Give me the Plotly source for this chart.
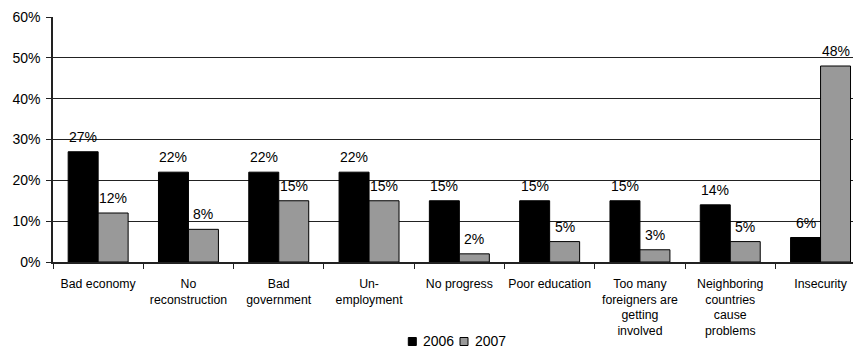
import plotly.graph_objects as go

# Reasons given for a worsening situation, share of respondents
categories = [
    "Bad economy",
    "No<br>reconstruction",
    "Bad<br>government",
    "Un-<br>employment",
    "No progress",
    "Poor education",
    "Too many<br>foreigners are<br>getting<br>involved",
    "Neighboring<br>countries<br>cause<br>problems",
    "Insecurity",
]
values_2006 = [27, 22, 22, 22, 15, 15, 15, 14, 6]
values_2007 = [12, 8, 15, 15, 2, 5, 3, 5, 48]
series_names = ["2006", "2007"]

FONT = "Liberation Sans, Arial, sans-serif"
W, H = 853, 349
ML, MR, MT, MB = 53, 0, 17, 87
PW, PH = W - ML - MR, H - MT - MB

fig = go.Figure()
fig.add_bar(x=categories, y=values_2006, name=series_names[0],
            marker=dict(color="#000000", line=dict(color="#000000", width=1)))
fig.add_bar(x=categories, y=values_2007, name=series_names[1],
            marker=dict(color="#999999", line=dict(color="#000000", width=1)))

# value labels above each bar
cat_px = 90.3
bar_off = 15
annotations = []
for vals, sign in ((values_2006, -1), (values_2007, 1)):
    for c, v in zip(categories, vals):
        annotations.append(dict(
            x=c, y=v, xref="x", yref="y", text=f"{v}%", showarrow=False,
            xshift=sign * bar_off, yshift=15, yanchor="middle", xanchor="center",
            font=dict(family=FONT, size=14, color="#000000")))

# legend drawn as swatches + labels below the axis
def px_x(p):
    return (p - ML) / PW

def px_y(p):
    return (H - MB - p) / PH

shapes = []
legend_items = [(408.3, 421, series_names[0], "#000000"),
                (460, 472.7, series_names[1], "#999999")]
for sx, tx, label, col in legend_items:
    shapes.append(dict(type="rect", xref="paper", yref="paper",
                       x0=px_x(sx), x1=px_x(sx + 8), y0=px_y(345.5), y1=px_y(337.5),
                       fillcolor=col, line=dict(color="#000000", width=1)))
    annotations.append(dict(x=px_x(tx), y=px_y(341), xref="paper", yref="paper",
                            text=label, showarrow=False, xanchor="left", yanchor="middle",
                            font=dict(family=FONT, size=14, color="#000000")))

x_end = -0.5 + PW / cat_px
fig.update_layout(
    width=W, height=H,
    margin=dict(l=ML, r=MR, t=MT, b=MB),
    paper_bgcolor="white", plot_bgcolor="white",
    barmode="group", bargap=0.336, bargroupgap=0,
    showlegend=False,
    font=dict(family=FONT, size=12, color="#000000"),
    annotations=annotations, shapes=shapes,
    xaxis=dict(type="category", range=[-0.5, x_end], tickson="boundaries",
               ticks="outside", ticklen=5, tickcolor="#222222", tickwidth=1,
               showline=True, linecolor="#222222", linewidth=1.5,
               showgrid=False, tickangle=0, ticklabelstandoff=9,
               tickfont=dict(family=FONT, size=12.3, color="#000000")),
    yaxis=dict(range=[0, 60], dtick=10, ticksuffix="%", ticks="outside",
               ticklen=5, tickcolor="#222222", tickwidth=1,
               showline=True, linecolor="#222222", linewidth=1.5,
               showgrid=True, gridcolor="#222222", gridwidth=1,
               zeroline=False, ticklabelstandoff=3,
               tickfont=dict(family=FONT, size=14, color="#000000")),
)

fig.write_html("out.html")
